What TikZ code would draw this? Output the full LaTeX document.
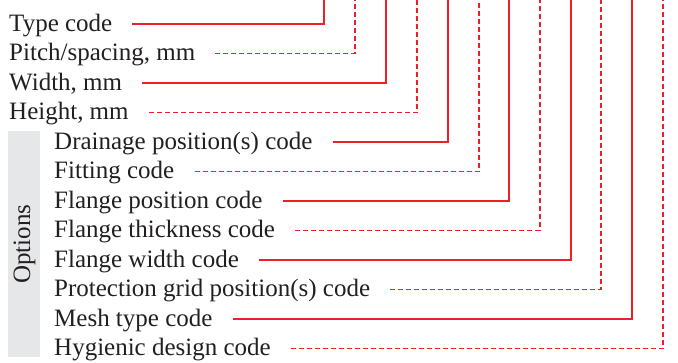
\documentclass[tikz,border=0pt]{standalone}
\usepackage{fontspec}
\setmainfont{Liberation Serif}
\begin{document}
\begin{tikzpicture}[x=1pt,y=1pt,
  lbl/.style={anchor=base west,inner sep=0pt,font=\fontsize{25}{25}\selectfont,text=txtcol},
  solidlink/.style={draw=linkred,line width=1.8pt},
  dashlink/.style={draw=linkred,line width=1.8pt,dash pattern=on 5pt off 3pt}]
\definecolor{linkred}{RGB}{236,32,40}
\definecolor{txtcol}{RGB}{35,31,32}
\definecolor{boxgrey}{RGB}{230,231,232}
\useasboundingbox (0,0) rectangle (678,-362);
% grey options band
\fill[boxgrey] (8,-131) rectangle (40,-357);
\node[inner sep=0pt,rotate=90,font=\fontsize{25}{25}\selectfont,text=txtcol] (opt) at (24.5,-244) {Options};
% labels
\node[lbl] (t1)  at (9,-31)    {Type code};
\node[lbl] (t2)  at (9,-60.5)  {Pitch/spacing, mm};
\node[lbl] (t3)  at (9,-90)    {Width, mm};
\node[lbl] (t4)  at (9,-119.5) {Height, mm};
\node[lbl] (t5)  at (54,-149)   {Drainage position(s) code};
\node[lbl] (t6)  at (54,-178.5) {Fitting code};
\node[lbl] (t7)  at (54,-208)   {Flange position code};
\node[lbl] (t8)  at (54,-237.5) {Flange thickness code};
\node[lbl] (t9)  at (54,-267)   {Flange width code};
\node[lbl] (t10) at (54,-296.5) {Protection grid position(s) code};
\node[lbl] (t11) at (54,-326)   {Mesh type code};
\node[lbl] (t12) at (54,-355.5) {Hygienic design code};
% top ends of the connectors
\coordinate (v1)  at (324,0);
\coordinate (v2)  at (355,0);
\coordinate (v3)  at (386,0);
\coordinate (v4)  at (417,0);
\coordinate (v5)  at (448,0);
\coordinate (v6)  at (479,0);
\coordinate (v7)  at (509,0);
\coordinate (v8)  at (540,0);
\coordinate (v9)  at (571,0);
\coordinate (v10) at (601,0);
\coordinate (v11) at (632,0);
\coordinate (v12) at (663,0);
% connectors
\draw[solidlink] ([xshift=20pt,yshift=7pt]t1.base east)  -| (v1);
\draw[dashlink]  ([xshift=20pt,yshift=7pt]t2.base east)  -| (v2);
\draw[solidlink] ([xshift=20pt,yshift=7pt]t3.base east)  -| (v3);
\draw[dashlink]  ([xshift=20pt,yshift=7pt]t4.base east)  -| (v4);
\draw[solidlink] ([xshift=20pt,yshift=7pt]t5.base east)  -| (v5);
\draw[dashlink]  ([xshift=20pt,yshift=7pt]t6.base east)  -| (v6);
\draw[solidlink] ([xshift=20pt,yshift=7pt]t7.base east)  -| (v7);
\draw[dashlink]  ([xshift=20pt,yshift=7pt]t8.base east)  -| (v8);
\draw[solidlink] ([xshift=20pt,yshift=7pt]t9.base east)  -| (v9);
\draw[dashlink]  ([xshift=20pt,yshift=7pt]t10.base east) -| (v10);
\draw[solidlink] ([xshift=20pt,yshift=7pt]t11.base east) -| (v11);
\draw[dashlink]  ([xshift=20pt,yshift=7pt]t12.base east) -| (v12);
\end{tikzpicture}
\end{document}
